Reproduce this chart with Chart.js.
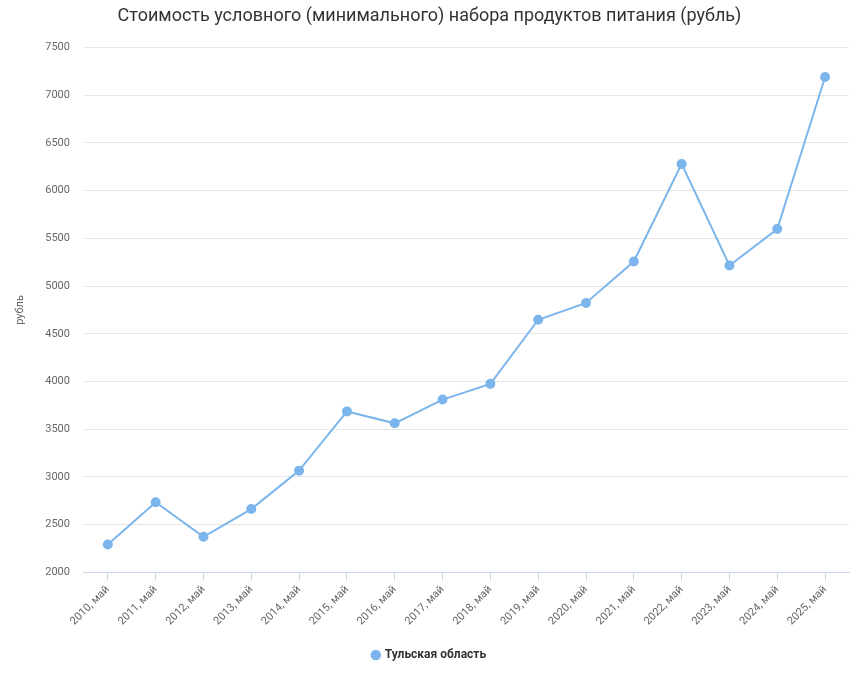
<!DOCTYPE html>
<html>
<head>
<meta charset="utf-8">
<script src="https://cdn.jsdelivr.net/npm/chart.js@4"></script>
<style>
  body { margin: 0; background: #fff; }
  #wrap { width: 859px; height: 681px; }
</style>
</head>
<body>
<div id="wrap"><canvas id="chart"></canvas></div>
<script>
const categories = ['2010, май', '2011, май', '2012, май', '2013, май', '2014, май', '2015, май', '2016, май', '2017, май',
    '2018, май', '2019, май', '2020, май', '2021, май', '2022, май', '2023, май', '2024, май', '2025, май'];
const tulaValues = [2290, 2734, 2372, 2662, 3065, 3686, 3561, 3810, 3975, 4647, 4823, 5257, 6281, 5216, 5598, 7191];
const yTicks = [2000, 2500, 3000, 3500, 4000, 4500, 5000, 5500, 6000, 6500, 7000, 7500];

const blue = '#7cb5ec';
const font = 'Roboto, "Noto Sans", sans-serif';

new Chart(document.getElementById('chart'), {
    type: 'line',
    data: {
        labels: categories,
        datasets: [{
            label: 'Тульская область',
            data: tulaValues,
            borderColor: blue,
            backgroundColor: blue,
            pointBackgroundColor: blue,
            pointBorderColor: blue,
            pointRadius: 4,
            borderWidth: 2,
            tension: 0
        }]
    },
    options: {
        responsive: true,
        maintainAspectRatio: false,
        animation: false,
        layout: { padding: { left: 10, right: 10, top: 0, bottom: 10 } },
        scales: {
            x: {
                offset: true,
                grid: { drawOnChartArea: false, drawTicks: true, tickLength: 8, color: '#ccd6eb' },
                border: { color: '#ccd6eb' },
                ticks: { color: '#666', font: { family: font, size: 11 }, maxRotation: 45, minRotation: 45 }
            },
            y: {
                min: 2000,
                max: 7500,
                afterBuildTicks: function (axis) {
                    axis.ticks = yTicks.map(v => ({ value: v }));
                },
                grid: { color: '#e6e6e6', drawTicks: false },
                border: { display: false },
                ticks: { color: '#666', font: { family: font, size: 11 }, padding: 14, callback: v => String(v) },
                title: { display: true, text: 'рубль', color: '#666', font: { family: font, size: 11 } }
            }
        },
        plugins: {
            title: {
                display: true,
                text: 'Стоимость условного (минимального) набора продуктов питания (рубль)',
                color: '#333',
                font: { family: font, size: 18, weight: 'normal' },
                padding: { top: 6, bottom: 20 }
            },
            legend: {
                position: 'bottom',
                labels: {
                    usePointStyle: true,
                    pointStyle: 'circle',
                    boxWidth: 6,
                    boxHeight: 6,
                    color: '#333',
                    font: { family: font, size: 12, weight: 'bold' },
                    padding: 18
                }
            },
            tooltip: { enabled: false }
        }
    }
});
</script>
</body>
</html>
